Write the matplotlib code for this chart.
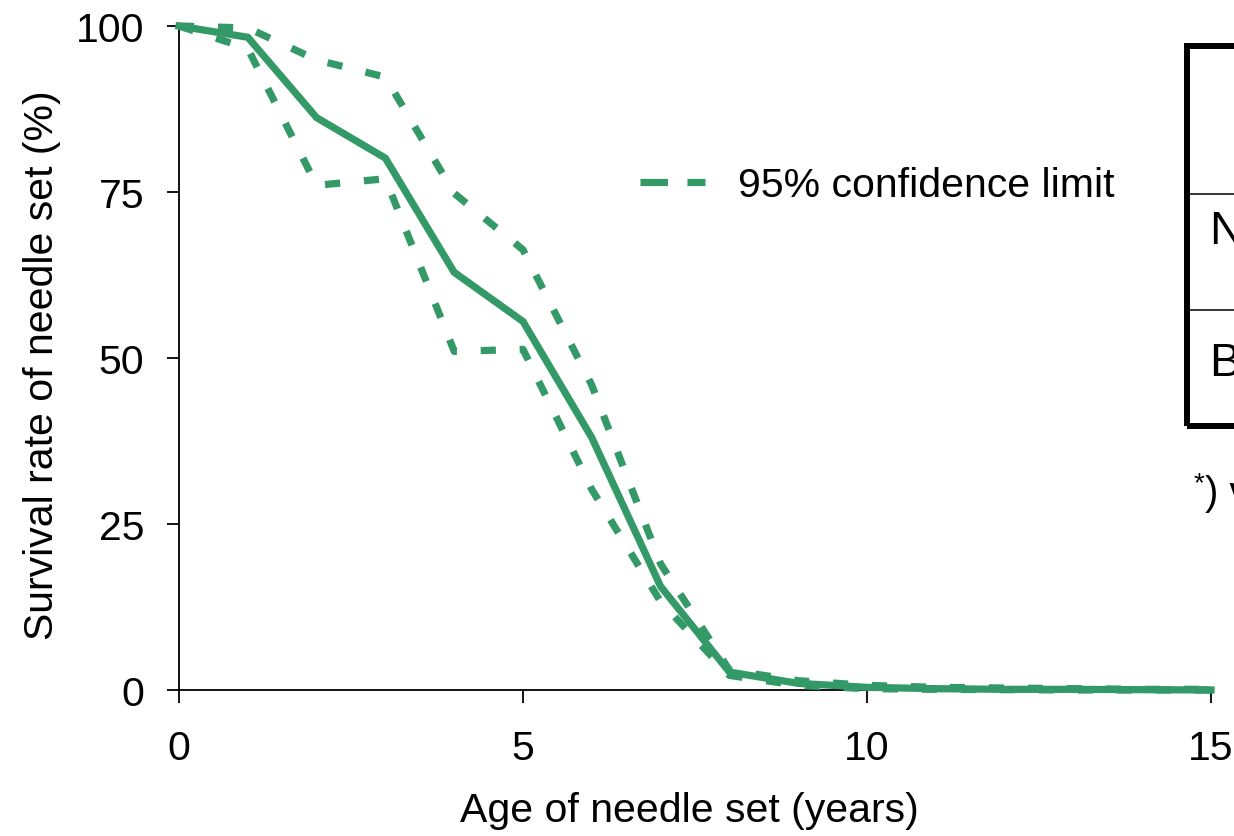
import matplotlib
matplotlib.use("Agg")
import matplotlib.pyplot as plt
from matplotlib.lines import Line2D
from matplotlib.patches import Rectangle

plt.rcParams["font.family"] = ["Liberation Sans", "DejaVu Sans"]

# Survival of needle sets by age
age_years = list(range(16))
survival_mean = [100, 98.3, 86.2, 80.1, 62.9, 55.5, 38.0, 15.6, 2.7, 1.0, 0.4, 0.2, 0.1, 0.1, 0.05, 0.0]
upper_limit = [100, 99.7, 94.9, 92.3, 74.8, 66.3, 45.9, 19.0, 3.0, 1.4, 0.7, 0.4, 0.3, 0.2, 0.1, 0.1]
lower_limit = [100, 96.6, 76.0, 77.0, 51.0, 51.3, 30.2, 13.3, 2.2, 0.7, 0.2, 0.1, 0.05, 0.0, 0.0, 0.0]

x_ticks = [0, 5, 10, 15]
y_ticks = [0, 25, 50, 75, 100]

GREEN = "#339966"
FS = 29.5

fig = plt.figure(figsize=(12.34, 8.37), dpi=100)
W, H = 1234, 837
ax = fig.add_axes([179 / W, (H - 691) / H, (1211 - 179) / W, (691 - 27) / H])

ax.plot(age_years, survival_mean, color=GREEN, lw=5.2, solid_joinstyle="miter",
        clip_on=False, zorder=3)
for series in (upper_limit, lower_limit):
    ax.plot(age_years, series, color=GREEN, lw=5.2, dashes=(2.1, 3.3),
            dash_capstyle="butt", clip_on=False, zorder=3)

ax.set_xlim(0, 15)
ax.set_ylim(0, 100)
ax.set_xticks(x_ticks)
ax.set_yticks(y_ticks)
ax.set_xticklabels([str(v) for v in x_ticks])
ax.set_yticklabels([str(v) for v in y_ticks])
ax.tick_params(axis="both", direction="out", length=9, width=1.3,
               labelsize=FS, color="black")
ax.tick_params(axis="y", pad=16)
ax.tick_params(axis="x", pad=19)
for side in ("top", "right"):
    ax.spines[side].set_visible(False)
for side in ("left", "bottom"):
    ax.spines[side].set_linewidth(1.3)

ax.set_xlabel("Age of needle set (years)", fontsize=FS)
ax.set_ylabel("Survival rate of needle set (%)", fontsize=FS)
ax.xaxis.set_label_coords(0.495, -0.152)
ax.yaxis.set_label_coords(-0.114, 0.49)

handle = Line2D([], [], color=GREEN, lw=5.2, dashes=(3.8, 2.7), dash_capstyle="butt")
ax.legend([handle], ["95% confidence limit"], loc="center left",
          bbox_to_anchor=(640 / W, 1 - 186 / H), bbox_transform=fig.transFigure,
          frameon=False, fontsize=FS, handlelength=65 / 41.0,
          handletextpad=0.8, borderpad=0, borderaxespad=0)

# Side table (partially outside the canvas)
box = Rectangle((1187 / W, 1 - 427 / H), 0.3, (427 - 47) / H,
                transform=fig.transFigure, fill=False, lw=4.3,
                edgecolor="black", clip_on=False)
fig.add_artist(box)
for yy in (195, 311):
    fig.add_artist(Line2D([1187 / W, 1.2], [1 - yy / H] * 2,
                          transform=fig.transFigure, color="black", lw=1.1))
fig.text(1209 / W, 1 - 232 / H, "N", fontsize=34, va="center", ha="left")
fig.text(1209 / W, 1 - 364 / H, "B", fontsize=34, va="center", ha="left")
fig.text(1194 / W, 1 - 484 / H, "*", fontsize=20, va="center", ha="left")
fig.text(1205 / W, 1 - 494 / H, ") v", fontsize=29, va="center", ha="left")

fig.savefig("out.png", dpi=100)
